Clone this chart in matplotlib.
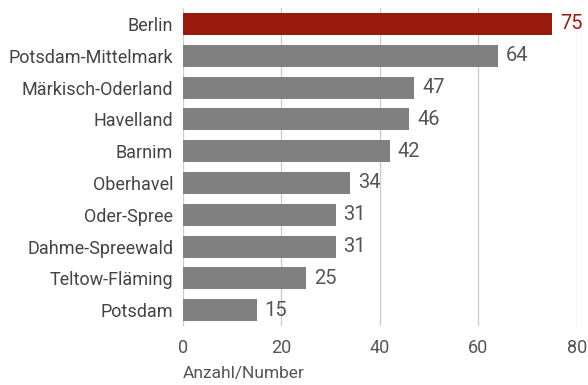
import matplotlib.pyplot as plt

plt.rcParams['font.family'] = ['Roboto', 'DejaVu Sans']

regions = ['Berlin', 'Potsdam-Mittelmark', 'Märkisch-Oderland', 'Havelland', 'Barnim',
           'Oberhavel', 'Oder-Spree', 'Dahme-Spreewald', 'Teltow-Fläming', 'Potsdam']
counts = [75, 64, 47, 46, 42, 34, 31, 31, 25, 15]
colors = ['#981b0e'] + ['#808080'] * 9

fig = plt.figure(figsize=(5.88, 3.85), dpi=100)
ax = fig.add_axes([0.311, 0.153, 0.670, 0.826])

y = list(range(len(regions)))
ax.barh(y, counts, height=0.69, color=colors, zorder=2)
for yi, v, c in zip(y, counts, colors):
    col = '#981b0e' if c == '#981b0e' else '#555555'
    ax.text(v + 1.6, yi, str(v), va='center', ha='left', fontsize=14.5, color=col, zorder=3)

ax.set_ylim(9.5, -0.5)
ax.set_xlim(0, 80)
ax.set_xticks([0, 20, 40, 60, 80])
ax.set_yticks(y)
ax.set_yticklabels(regions, fontsize=13, color='#444444')
ax.tick_params(axis='x', labelsize=13, labelcolor='#555555', length=0, pad=9)
ax.tick_params(axis='y', length=0, pad=7)
ax.grid(axis='x', color='#cccccc', linewidth=1, zorder=0)
for s in ax.spines.values():
    s.set_visible(False)
ax.set_xlabel('Anzahl/Number', fontsize=12.5, color='#555555', loc='left', labelpad=7)

fig.savefig('out.png', dpi=100)
